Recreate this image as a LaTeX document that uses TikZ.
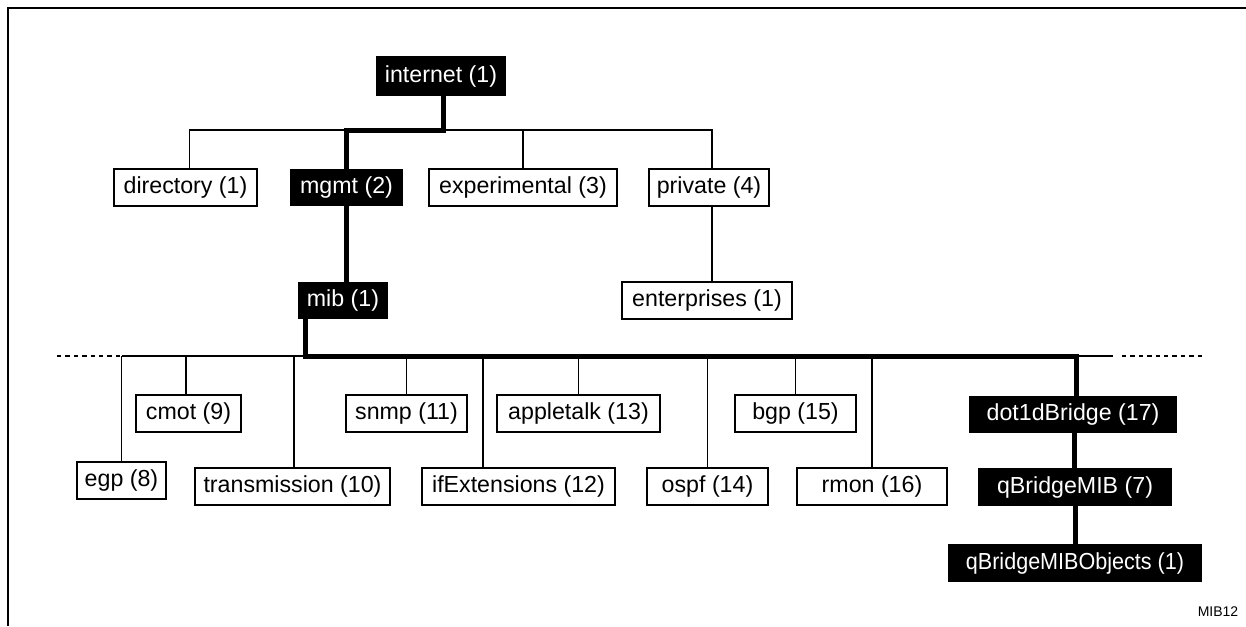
\documentclass[tikz,border=0pt]{standalone}
\usepackage{fontspec}
\setmainfont{Liberation Sans}
\begin{document}
\begin{tikzpicture}[x=0.5pt,y=-0.5pt,
  wbox/.style={draw=black,line width=0.65pt,fill=white,inner sep=0pt,minimum height=18.5pt,font=\fontsize{11.6}{13}\selectfont,text=black},
  bbox/.style={fill=black,inner sep=0pt,minimum height=18.5pt,font=\fontsize{11.6}{13}\selectfont,text=white},
  thin/.style={line width=0.65pt},
  thickline/.style={line width=2.5pt},
  dashline/.style={line width=0.65pt,dash pattern=on 2.2pt off 2pt}]
\useasboundingbox (0,0) rectangle (1246,626);
% frame
\draw[line width=1.2pt] (8,626) -- (8,8) -- (1246,8);
% bus coordinates
\coordinate (bus1) at (0,130);
\coordinate (bus2) at (0,356);
\coordinate (busL) at (122,356);
\coordinate (busR) at (1113,356);
\coordinate (dashL) at (57,356);
\coordinate (dashR) at (1202,356);
\coordinate (dashRs) at (1122,356);
% nodes
\node[bbox,minimum width=65pt,minimum height=20pt] (internet) at (441,76) {internet (1)};
\node[wbox,minimum width=71.5pt] (dir) at (185.5,187.5) {directory (1)};
\node[bbox,minimum width=56.5pt] (mgmt) at (346.5,187.5) {mgmt (2)};
\node[wbox,minimum width=94pt] (exp) at (523,187.5) {experimental (3)};
\node[wbox,minimum width=60pt] (priv) at (709,187.5) {private (4)};
\node[wbox,minimum width=85pt] (ent) at (707,300.5) {enterprises (1)};
\node[bbox,minimum width=45pt] (mib) at (343,300.5) {mib (1)};
\node[wbox,minimum width=44.5pt] (egp) at (121.5,480.5) {egp (8)};
\node[wbox,minimum width=52.5pt] (cmot) at (188.5,413.5) {cmot (9)};
\node[wbox,minimum width=97.5pt] (trans) at (292.5,486.5) {transmission (10)};
\node[wbox,minimum width=60.5pt] (snmp) at (406.5,413.5) {snmp (11)};
\node[wbox,minimum width=96.5pt] (ifx) at (518.5,486.5) {ifExtensions (12)};
\node[wbox,minimum width=81.5pt] (apple) at (578.5,413.5) {appletalk (13)};
\node[wbox,minimum width=60.5pt] (ospf) at (707.5,486.5) {ospf (14)};
\node[wbox,minimum width=60.5pt] (bgp) at (795.5,413.5) {bgp (15)};
\node[wbox,minimum width=75pt] (rmon) at (872,486.5) {rmon (16)};
\node[bbox,minimum width=104pt] (d17) at (1073,414.5) {dot1dBridge (17)};
\node[bbox,minimum width=97pt,minimum height=19pt] (qb) at (1075,487) {qBridgeMIB (7)};
\node[bbox,minimum width=127pt,minimum height=19pt] (qbo) at (1075,563) {\scalebox{0.93}[1]{qBridgeMIBObjects (1)}};
\node[font=\fontsize{7}{8}\selectfont] (tag) at (1218,612) {MIB12};
% upper thin connectors
\draw[thin] ([xshift=2pt]dir.north) -- ([xshift=2pt]dir.north |- bus1) -- ([xshift=1.5pt]priv.north |- bus1) -- ([xshift=1.5pt]priv.north);
\draw[thin] (exp.north) -- (exp.north |- bus1);
\draw[thin] ([xshift=1.5pt]priv.south) -- ([xshift=1.5pt]priv.south |- ent.north);
% lower bus
\draw[dashline] (dashL) -- (busL);
\draw[thin] (busL) -- (busR);
\draw[dashline] (dashRs) -- (dashR);
\draw[thin] (egp.north) -- (egp.north |- bus2);
\draw[thin] ([xshift=-1.25pt]cmot.north) -- ([xshift=-1.25pt]cmot.north |- bus2);
\draw[thin] ([xshift=0.75pt]trans.north) -- ([xshift=0.75pt]trans.north |- bus2);
\draw[thin] (snmp.north) -- (snmp.north |- bus2);
\draw[thin] ([xshift=-17.75pt]ifx.north) -- ([xshift=-17.75pt]ifx.north |- bus2);
\draw[thin] (apple.north) -- (apple.north |- bus2);
\draw[thin] (ospf.north) -- (ospf.north |- bus2);
\draw[thin] (bgp.north) -- (bgp.north |- bus2);
\draw[thin] (rmon.north) -- (rmon.north |- bus2);
% thick path
\draw[thickline] ([xshift=1pt]internet.south) |- (bus1 -| mgmt.north) -- (mgmt.north);
\draw[thickline] (mgmt.south) -- (mgmt.south |- mib.north);
\draw[thickline] ([xshift=4pt]mib.south west) |- ([xshift=1.5pt]bus2 -| d17.north) -- ([xshift=1.5pt]d17.north);
\draw[thickline] ([xshift=0.5pt]d17.south) -- ([xshift=0.5pt]d17.south |- qb.north);
\draw[thickline] (qb.south) -- (qbo.north);
\end{tikzpicture}
\end{document}
